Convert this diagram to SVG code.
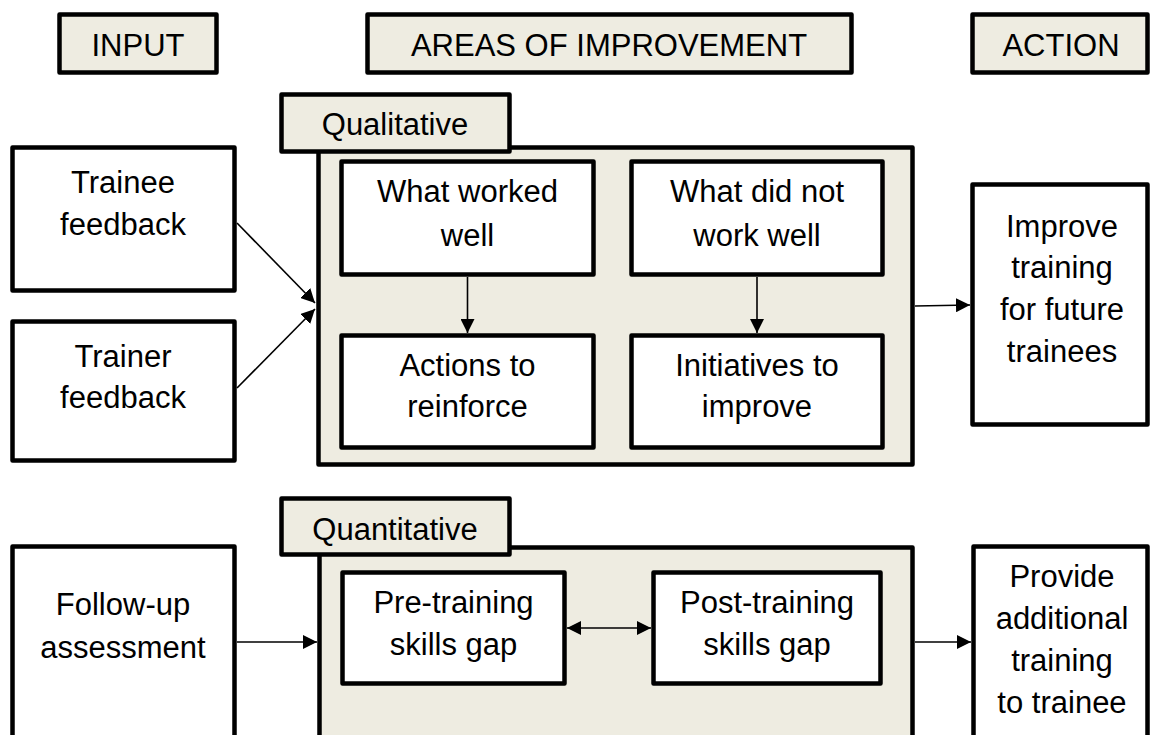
<svg xmlns="http://www.w3.org/2000/svg" width="1151" height="735" viewBox="0 0 1151 735">
<defs>
<marker id="ah" markerUnits="userSpaceOnUse" markerWidth="14" markerHeight="14" refX="14" refY="7" orient="auto-start-reverse">
<path d="M0,0 L14,7 L0,14 z" fill="#000"/>
</marker>
</defs>
<style>
.b{fill:#fff;stroke:#000;stroke-width:4.5;stroke-linejoin:round}
.g{fill:#EEECE1;stroke:#000;stroke-width:4.5;stroke-linejoin:round}
text{font-family:"Liberation Sans",Arial,sans-serif;font-size:31px;fill:#000;text-anchor:middle}
.c{stroke:#000;stroke-width:1.6;fill:none}
</style>
<rect width="1151" height="735" fill="#fff"/>

<g id="hdr-input"><rect class="g" x="59.5" y="14.5" width="157" height="58"/><text x="138" y="56">INPUT</text></g>
<g id="hdr-areas"><rect class="g" x="367.5" y="14.5" width="484" height="58"/><text x="609" y="56">AREAS OF IMPROVEMENT</text></g>
<g id="hdr-action"><rect class="g" x="972.5" y="14.5" width="175" height="58"/><text x="1061" y="56">ACTION</text></g>

<g id="qual-container"><rect class="g" x="318.5" y="147.5" width="594" height="317"/></g>
<g id="qual-tab"><rect class="g" x="281.5" y="94.5" width="228" height="57"/><text x="395" y="135">Qualitative</text></g>

<g id="trainee"><rect class="b" x="12.5" y="147.5" width="222" height="143"/><text x="123" y="193">Trainee</text><text x="123" y="235">feedback</text></g>
<g id="trainer"><rect class="b" x="12.5" y="321.5" width="222" height="139"/><text x="123" y="367">Trainer</text><text x="123" y="408">feedback</text></g>

<g id="worked"><rect class="b" x="341.5" y="161.5" width="252" height="113"/><text x="467.5" y="202">What worked</text><text x="467.5" y="246">well</text></g>
<g id="notworked"><rect class="b" x="631.5" y="161.5" width="251" height="113"/><text x="757" y="202">What did not</text><text x="757" y="246">work well</text></g>
<g id="reinforce"><rect class="b" x="341.5" y="335.5" width="252" height="112"/><text x="467.5" y="376">Actions to</text><text x="467.5" y="417">reinforce</text></g>
<g id="initiatives"><rect class="b" x="631.5" y="335.5" width="251" height="112"/><text x="757" y="376">Initiatives to</text><text x="757" y="417">improve</text></g>

<g id="improve"><rect class="b" x="972.5" y="184.5" width="175" height="240"/><text x="1062" y="237">Improve</text><text x="1062" y="278">training</text><text x="1062" y="320">for future</text><text x="1062" y="362">trainees</text></g>

<g id="quant-container"><rect class="g" x="319.5" y="547.5" width="593" height="200"/></g>
<g id="quant-tab"><rect class="g" x="281.5" y="498.5" width="228" height="56"/><text x="395" y="540">Quantitative</text></g>

<g id="followup"><rect class="b" x="12.5" y="546.5" width="222" height="200"/><text x="123" y="615">Follow-up</text><text x="123" y="658">assessment</text></g>
<g id="pre"><rect class="b" x="342.5" y="572.5" width="222" height="111"/><text x="453.5" y="613">Pre-training</text><text x="453.5" y="655">skills gap</text></g>
<g id="post"><rect class="b" x="653.5" y="572.5" width="227" height="111"/><text x="767" y="613">Post-training</text><text x="767" y="655">skills gap</text></g>
<g id="provide"><rect class="b" x="973.5" y="546.5" width="174" height="200"/><text x="1062" y="587">Provide</text><text x="1062" y="629">additional</text><text x="1062" y="671">training</text><text x="1062" y="713">to trainee</text></g>

<g id="connectors">
<line class="c" x1="237" y1="223" x2="315" y2="303" marker-end="url(#ah)"/>
<line class="c" x1="237" y1="388" x2="315" y2="309" marker-end="url(#ah)"/>
<line class="c" x1="467.5" y1="277" x2="467.5" y2="333" marker-end="url(#ah)"/>
<line class="c" x1="757" y1="277" x2="757" y2="333" marker-end="url(#ah)"/>
<line class="c" x1="915" y1="306" x2="970" y2="305" marker-end="url(#ah)"/>
<line class="c" x1="237" y1="642" x2="317" y2="642" marker-end="url(#ah)"/>
<line class="c" x1="567" y1="628" x2="651" y2="628" marker-start="url(#ah)" marker-end="url(#ah)"/>
<line class="c" x1="915" y1="642" x2="971" y2="642" marker-end="url(#ah)"/>
</g>
</svg>
